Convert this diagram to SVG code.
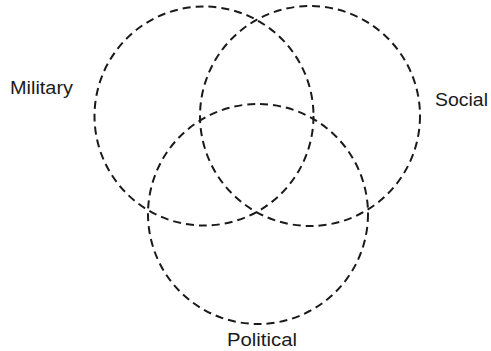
<svg xmlns="http://www.w3.org/2000/svg" width="491" height="351" viewBox="0 0 491 351">
<style>
.c{fill:none;stroke:#1a1a1a;stroke-width:2;stroke-dasharray:8 5}
.t{font-family:"Liberation Sans",Arial,sans-serif;font-size:17.5px;fill:#1a1a1a}
</style>
<rect width="491" height="351" fill="#fff"/>
<g id="military"><circle class="c" cx="204" cy="116" r="109.5"/><text class="t" x="10" y="94" textLength="63" lengthAdjust="spacingAndGlyphs">Military</text></g>
<g id="social"><circle class="c" cx="310" cy="116" r="110"/><text class="t" x="435" y="106" textLength="53" lengthAdjust="spacingAndGlyphs">Social</text></g>
<g id="political"><circle class="c" cx="258" cy="214" r="110"/><text class="t" x="227" y="346" textLength="70" lengthAdjust="spacingAndGlyphs">Political</text></g>
<g id="connectors"/>
</svg>
